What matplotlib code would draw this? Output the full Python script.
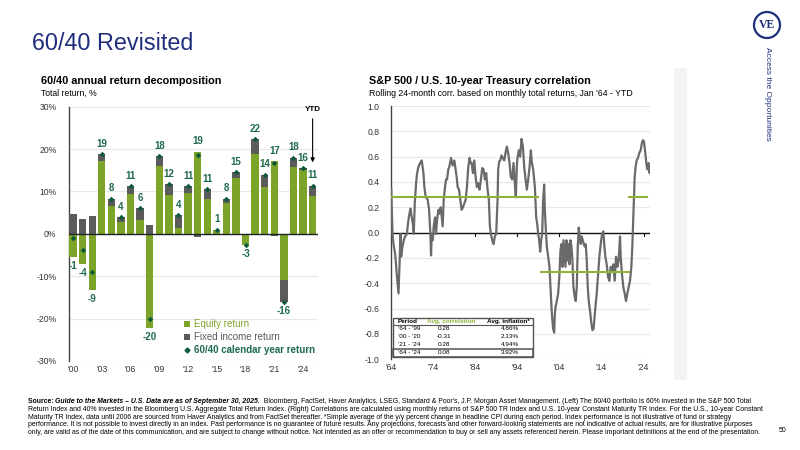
import matplotlib
matplotlib.use('Agg')
import matplotlib.pyplot as plt
from matplotlib.patches import Rectangle, Circle, Patch
from matplotlib.lines import Line2D
import numpy as np

plt.rcParams['font.family'] = ['Liberation Sans', 'DejaVu Sans']

# ---------------- data: left chart ----------------
years = list(range(2000, 2026))
equity = [-5.5, -7.1, -13.3, 17.2, 6.5, 2.9, 9.5, 3.3, -22.2, 15.9, 9.1, 1.3, 9.6,
          19.4, 8.2, 0.8, 7.2, 13.1, -2.6, 18.9, 11.0, 17.2, -10.9, 15.8, 15.0, 8.9]
fixed_income = [4.6, 3.4, 4.1, 1.6, 1.7, 1.0, 1.7, 2.8, 2.1, 2.4, 2.6, 3.1, 1.7,
                -0.8, 2.4, 0.2, 1.1, 1.4, 0.0, 3.5, 3.0, -0.6, -5.2, 2.2, 0.5, 2.5]
total = [-0.9, -3.7, -9.1, 18.9, 8.3, 3.9, 11.2, 6.1, -20.1, 18.3, 11.7, 4.4, 11.3,
         18.6, 10.6, 1.0, 8.3, 14.5, -2.6, 22.4, 14.0, 16.6, -16.1, 18.0, 15.5, 11.4]
total_labels = ["-1", "-4", "-9", "19", "8", "4", "11", "6", "-20", "18", "12", "4", "11",
                "19", "11", "1", "8", "15", "-3", "22", "14", "17", "-16", "18", "16", "11"]
left_xtick_years = [2000, 2003, 2006, 2009, 2012, 2015, 2018, 2021, 2024]
left_xtick_labels = ["'00", "'03", "'06", "'09", "'12", "'15", "'18", "'21", "'24"]
left_yticks = [-30, -20, -10, 0, 10, 20, 30]
left_ytick_labels = ["-30%", "-20%", "-10%", "0%", "10%", "20%", "30%"]
legend_labels = ["Equity return", "Fixed income return", "60/40 calendar year return"]

# ---------------- data: right chart ----------------
corr_year = [1964.05, 1964.2, 1964.36, 1964.59, 1964.99, 1965.38, 1965.78, 1966.01, 1966.25, 1966.41,
             1966.72, 1967.04, 1967.35, 1967.75, 1968.14, 1968.38, 1968.62, 1968.93, 1969.17, 1969.41,
             1969.64, 1969.96, 1970.20, 1970.51, 1970.91, 1971.30, 1971.70, 1971.93, 1972.25, 1972.72,
             1973.04, 1973.35, 1973.51, 1973.67, 1973.91, 1974.14, 1974.46, 1974.69, 1974.93, 1975.25,
             1975.48, 1975.80, 1976.04, 1976.27, 1976.51, 1976.83, 1977.06, 1977.30, 1977.61, 1977.85,
             1978.25, 1978.64, 1979.04, 1979.35, 1979.59, 1979.83, 1980.14, 1980.46, 1980.77, 1981.09,
             1981.40, 1981.72, 1982.03, 1982.35, 1982.67, 1982.90, 1983.14, 1983.46, 1983.77, 1984.09,
             1984.40, 1984.72, 1985.03, 1985.35, 1985.66, 1985.98, 1986.30, 1986.61, 1986.93, 1987.24,
             1987.48, 1987.72, 1988.03, 1988.35, 1988.66, 1988.98, 1989.30, 1989.45, 1989.69, 1989.93,
             1990.24, 1990.56, 1990.88, 1991.19, 1991.51, 1991.82, 1992.14, 1992.45, 1992.77, 1993.09,
             1993.40, 1993.64, 1993.87, 1994.03, 1994.35, 1994.66, 1995.00, 1995.32, 1995.63, 1995.95,
             1996.26, 1996.58, 1996.90, 1997.21, 1997.45, 1997.76, 1998.16, 1998.48, 1998.71, 1998.95,
             1999.19, 1999.42, 1999.66, 1999.90, 2000.13, 2000.37, 2000.53, 2000.77, 2001.00, 2001.32,
             2001.63, 2001.95, 2002.19, 2002.50, 2002.75, 2002.90, 2003.06, 2003.37, 2003.69, 2004.00,
             2004.24, 2004.48, 2004.71, 2004.95, 2005.19, 2005.43, 2005.66, 2005.90, 2006.14, 2006.37,
             2006.61, 2006.85, 2007.08, 2007.32, 2007.64, 2007.87, 2008.11, 2008.35, 2008.58, 2008.82,
             2009.06, 2009.30, 2009.53, 2009.77, 2010.01, 2010.24, 2010.48, 2010.72, 2010.95, 2011.27,
             2011.59, 2011.85, 2012.10, 2012.40, 2012.85, 2013.17, 2013.48, 2013.80, 2014.11, 2014.43,
             2014.67, 2014.90, 2015.22, 2015.54, 2015.85, 2016.17, 2016.48, 2016.80, 2017.12, 2017.43,
             2017.75, 2018.06, 2018.38, 2018.54, 2018.85, 2019.17, 2019.49, 2019.80, 2020.12, 2020.43,
             2020.75, 2021.07, 2021.30, 2021.54, 2021.70, 2021.86, 2022.09, 2022.33, 2022.65, 2022.96,
             2023.28, 2023.59, 2023.83, 2024.07, 2024.38, 2024.62, 2024.86, 2025.17, 2025.41, 2025.55]
corr_value = [0.35, 0.18, -0.01, -0.09, -0.17, -0.33, -0.48, -0.27, -0.01, -0.19,
              -0.11, -0.06, -0.03, -0.01, 0.10, 0.15, 0.19, 0.12, 0.07, -0.01,
              0.23, 0.39, 0.47, 0.52, 0.55, 0.57, 0.47, 0.36, 0.28, 0.26,
              0.18, -0.01, -0.18, -0.01, -0.06, 0.05, 0.12, -0.01, 0.10, 0.18,
              0.15, 0.20, 0.12, 0.05, 0.26, 0.36, 0.42, 0.42, 0.50, 0.52,
              0.59, 0.53, 0.57, 0.50, 0.44, 0.36, 0.34, 0.26, 0.18, 0.20,
              0.23, 0.26, 0.36, 0.52, 0.59, 0.55, 0.55, 0.47, 0.57, 0.44,
              0.36, 0.39, 0.34, 0.42, 0.51, 0.50, 0.42, 0.47, 0.34, 0.26,
              0.05, -0.01, -0.06, -0.09, -0.03, -0.01, 0.26, 0.50, 0.56, 0.57,
              0.61, 0.59, 0.57, 0.63, 0.68, 0.63, 0.55, 0.44, 0.42, 0.55,
              0.39, 0.28, 0.52, 0.59, 0.65, 0.60, 0.74, 0.68, 0.52, 0.42,
              0.34, 0.42, 0.52, 0.65, 0.55, 0.50, 0.36, 0.12, 0.07, -0.01,
              -0.06, -0.15, -0.06, -0.01, 0.26, 0.38, 0.18, 0.02, -0.11, -0.19,
              -0.27, -0.48, -0.64, -0.76, -0.79, -0.64, -0.59, -0.54, -0.48, -0.33,
              -0.14, -0.09, -0.27, -0.06, -0.17, -0.27, -0.06, -0.22, -0.09, -0.25,
              -0.06, -0.11, -0.22, -0.43, -0.51, -0.54, -0.43, -0.11, 0.04, -0.03,
              -0.09, -0.03, -0.06, -0.09, -0.11, -0.09, -0.22, -0.43, -0.54, -0.62,
              -0.72, -0.77, -0.76, -0.64, -0.48, -0.33, -0.19, -0.09, -0.01, 0.01,
              -0.11, -0.19, -0.25, -0.35, -0.38, -0.27, -0.30, -0.25, -0.38, -0.19,
              -0.27, -0.22, -0.03, -0.19, -0.33, -0.43, -0.48, -0.54, -0.48, -0.43,
              -0.38, -0.27, -0.11, 0.12, 0.28, 0.44, 0.52, 0.57, 0.59, 0.63,
              0.65, 0.71, 0.73, 0.72, 0.63, 0.55, 0.50, 0.55, 0.47, 0.53]
period_start = [1964.0, 1999.7, 2020.5]
period_end = [1999.0, 2020.5, 2024.7]
period_avg = [0.28, -0.31, 0.28]
right_xtick_years = [1964, 1974, 1984, 1994, 2004, 2014, 2024]
right_xtick_labels = ["'64", "'74", "'84", "'94", "'04", "'14", "'24"]
right_yticks = [-1.0, -0.8, -0.6, -0.4, -0.2, 0.0, 0.2, 0.4, 0.6, 0.8, 1.0]
right_ytick_labels = ["-1.0", "-0.8", "-0.6", "-0.4", "-0.2", "0.0", "0.2", "0.4", "0.6", "0.8", "1.0"]
table_period = ["'64 - '99", "'00 - '20", "'21 - '24", "'64 - '24"]
table_corr = ["0.28", "-0.31", "0.28", "0.08"]
table_infl = ["4.86%", "2.13%", "4.94%", "3.92%"]

# ---------------- styles ----------------
NAVY = '#1f2d7b'
GREEN = '#7ba428'
GREY = '#5b5b5b'
DKGREEN = '#1d6a4b'
MARKER = '#0b5a3a'
LGREEN = '#8db33a'
LINEGREY = '#6a6a6a'

fig = plt.figure(figsize=(8, 4.5), dpi=100)
fig.patch.set_facecolor('white')

# page furniture axes in pixel coordinates
bg = fig.add_axes([0, 0, 1, 1])
bg.set_xlim(0, 800)
bg.set_ylim(450, 0)
bg.axis('off')
bg.set_zorder(0)

bg.text(32, 43, '60/40 Revisited', fontsize=16.8, color=NAVY, va='center', ha='left')
bg.add_patch(Rectangle((674, 68), 13, 312, facecolor='#f3f3f3', edgecolor='none'))
bg.add_patch(Circle((767, 25), 13, fill=False, edgecolor=NAVY, lw=1.6))
bg.text(767, 25.5, 'VE', fontsize=8.5, color=NAVY, fontweight='bold', ha='center', va='center',
        family=['Liberation Serif', 'DejaVu Serif'])
bg.text(767, 94, 'Access the Opportunities', rotation=270, ha='center', va='center',
        fontsize=6, color=NAVY)

# chart titles
bg.text(41, 81.5, '60/40 annual return decomposition', fontsize=7.8, fontweight='bold', va='center')
bg.text(41, 93, 'Total return, %', fontsize=6.2, va='center')
bg.text(369, 81.5, 'S&P 500 / U.S. 10-year Treasury correlation', fontsize=7.8, fontweight='bold', va='center')
bg.text(369, 93, "Rolling 24-month corr. based on monthly total returns, Jan '64 - YTD", fontsize=6.3, va='center')

# footer
fs = 4.95
ys = [405, 412.8, 420.6, 428.4, 436.2]
t1 = bg.text(28, ys[0], 'Source: ', fontsize=fs, fontweight='bold', va='bottom')
t2 = bg.annotate('Guide to the Markets \u2013 U.S. Data are as of September 30, 2025.', xy=(1, 0),
                 xycoords=t1, va='bottom', ha='left', fontsize=fs, fontweight='bold', fontstyle='italic')
bg.annotate("  Bloomberg, FactSet, Haver Analytics, LSEG, Standard & Poor's, J.P. Morgan Asset Management. (Left) The 60/40 portfolio is 60% invested in the S&P 500 Total",
            xy=(1, 0), xycoords=t2, va='bottom', ha='left', fontsize=fs)
foot_lines = [
    "Return Index and 40% invested in the Bloomberg U.S. Aggregate Total Return Index. (Right) Correlations are calculated using monthly returns of S&P 500 TR Index and U.S. 10-year Constant Maturity TR Index. For the U.S., 10-year Constant",
    "Maturity TR Index, data until 2006 are sourced from Haver Analytics and from FactSet thereafter. *Simple average of the y/y percent change in headline CPI during each period. Index performance is not illustrative of fund or strategy",
    "performance. It is not possible to invest directly in an index. Past performance is no guarantee of future results. Any projections, forecasts and other forward-looking statements are not indicative of actual results, are for illustrative purposes",
    "only, are valid as of the date of this communication, and are subject to change without notice. Not intended as an offer or recommendation to buy or sell any assets referenced herein. Please important definitions at the end of the presentation.",
]
for yy, line in zip(ys[1:], foot_lines):
    bg.text(28, yy, line, fontsize=fs, va='bottom')
bg.text(783, 430, '50', fontsize=5, ha='center', va='center')

# ---------------- left chart ----------------
ax1 = fig.add_axes([69/800, 1-361/450, 249/800, 254.3/450])
ax1.set_zorder(1)
ax1.patch.set_alpha(0)
n = len(years)
x = np.arange(n)
eq = np.array(equity)
fi = np.array(fixed_income)
fi_base = np.where((fi >= 0) == (eq >= 0), eq, 0.0)
ax1.bar(x, eq, width=0.77, color=GREEN, zorder=3)
ax1.bar(x, fi, bottom=fi_base, width=0.77, color=GREY, zorder=3)
ax1.scatter(x, total, marker='D', s=8, color=MARKER, zorder=5, linewidths=0)
pos_top = np.where(eq > 0, eq, 0) + np.where(fi > 0, fi, 0)
neg_bot = np.where(eq < 0, eq, 0) + np.where(fi < 0, fi, 0)
for i in range(n):
    if total[i] >= 0:
        yl = max(pos_top[i], total[i]) + 2.4
    else:
        yl = min(neg_bot[i], total[i]) - 2.1
    ax1.text(x[i], yl, total_labels[i], ha='center', va='center', fontsize=7,
             fontweight='bold', color=DKGREEN, zorder=6)
ax1.set_xlim(-0.42, n - 0.44)
ax1.set_ylim(-30, 30)
ax1.set_yticks(left_yticks)
ax1.set_yticklabels(left_ytick_labels)
ax1.set_xticks([years.index(y) for y in left_xtick_years])
ax1.set_xticklabels(left_xtick_labels)
ax1.tick_params(length=0, labelsize=6.2, colors='#333333', pad=3)
ax1.tick_params(axis='y', pad=9)
ax1.yaxis.grid(True, color='#e8e8e8', lw=0.8)
ax1.set_axisbelow(True)
ax1.axhline(0, color='#222222', lw=1.0, zorder=4)
for s in ['top', 'right', 'bottom']:
    ax1.spines[s].set_visible(False)
ax1.spines['left'].set_color('#444444')
ax1.spines['left'].set_linewidth(1.0)

handles = [Patch(facecolor=GREEN), Patch(facecolor=GREY),
           Line2D([], [], marker='D', color=MARKER, ls='', ms=2.5)]
leg = ax1.legend(handles, legend_labels, loc='lower left', bbox_to_anchor=(0.44, 0.0),
                 frameon=False, fontsize=7, handlelength=0.55, handleheight=0.55,
                 handletextpad=0.4, labelspacing=0.3, borderaxespad=0.2)
txts = leg.get_texts()
txts[0].set_color(GREEN)
txts[1].set_color(GREY)
txts[2].set_color(DKGREEN)
txts[2].set_fontweight('bold')

ax1.annotate('', xy=(n - 1, 16.2), xytext=(n - 1, 27.8),
             arrowprops=dict(arrowstyle='-|>', color='black', lw=0.8, mutation_scale=6))
ax1.text(n - 1 + 0.05, 29.3, 'YTD', ha='center', va='center', fontsize=5.8, fontweight='bold')

# ---------------- right chart ----------------
ax2 = fig.add_axes([391/800, 1-359.3/450, 259/800, 253.3/450])
ax2.set_zorder(1)
ax2.patch.set_alpha(0)
ax2.plot(corr_year, corr_value, color=LINEGREY, lw=1.6, zorder=3)
for s_, e_, v_ in zip(period_start, period_end, period_avg):
    ax2.plot([s_, e_], [v_, v_], color=LGREEN, lw=1.5, zorder=4)
ax2.set_xlim(1964, 2025.5)
ax2.set_ylim(-1, 1)
ax2.set_yticks(right_yticks)
ax2.set_yticklabels(right_ytick_labels)
ax2.set_xticks(right_xtick_years)
ax2.set_xticklabels(right_xtick_labels)
ax2.tick_params(length=0, labelsize=6.2, colors='#333333', pad=3)
ax2.tick_params(axis='y', pad=8)
ax2.yaxis.grid(True, color='#e8e8e8', lw=0.8)
ax2.set_axisbelow(True)
ax2.axhline(0, color='#111111', lw=1.0, zorder=2)
for t in right_xtick_years[1:]:
    ax2.plot([t, t], [0, -0.025], color='#111111', lw=0.8, zorder=2)
for s in ['top', 'right', 'bottom']:
    ax2.spines[s].set_visible(False)
ax2.spines['left'].set_color('#444444')
ax2.spines['left'].set_linewidth(1.0)

# table
tf = ax2.transAxes
ax2.add_patch(Rectangle((0.007, 0.010), 0.543, 0.154, transform=tf, facecolor='white',
                        edgecolor='#555555', lw=1.0, zorder=6))
ax2.plot([0.007, 0.55], [0.134, 0.134], transform=tf, color='#555555', lw=0.8, zorder=7)
ax2.add_patch(Rectangle((0.007, 0.010), 0.543, 0.030, transform=tf, fill=False,
                        edgecolor='#555555', lw=1.1, zorder=7))
tfs = 4.6
ax2.text(0.026, 0.149, 'Period', transform=tf, fontsize=tfs, fontweight='bold', va='center', zorder=8)
ax2.text(0.232, 0.149, 'Avg. correlation', transform=tf, fontsize=tfs, fontweight='bold',
         color=LGREEN, ha='center', va='center', zorder=8)
ax2.text(0.452, 0.149, 'Avg. inflation*', transform=tf, fontsize=tfs, fontweight='bold',
         ha='center', va='center', zorder=8)
row_y = [0.120, 0.089, 0.058, 0.025]
for ry, p, c, inf in zip(row_y, table_period, table_corr, table_infl):
    ax2.text(0.026, ry, p, transform=tf, fontsize=tfs, va='center', zorder=8)
    ax2.text(0.205, ry, c, transform=tf, fontsize=tfs, ha='center', va='center', zorder=8)
    ax2.text(0.460, ry, inf, transform=tf, fontsize=tfs, ha='center', va='center', zorder=8)

fig.savefig('out.png', dpi=100, facecolor='white')
